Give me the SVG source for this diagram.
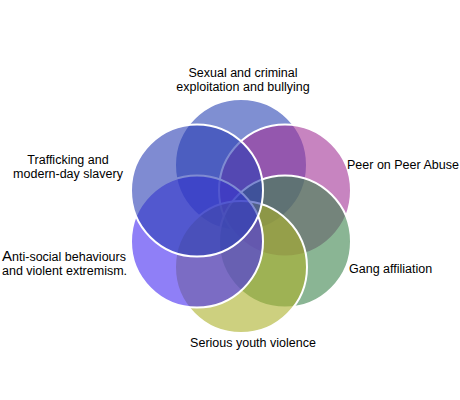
<svg xmlns="http://www.w3.org/2000/svg" width="460" height="400" viewBox="0 0 460 400">
<style>
.c{stroke:#ffffff;stroke-width:2;fill-opacity:0.6}
text{font-family:"Liberation Sans",Arial,sans-serif;font-size:12.5px;fill:#000000}
.m{text-anchor:middle}
</style>
<rect width="460" height="400" fill="#ffffff"/>
<g id="connectors"/>
<g id="node-top">
<circle class="c" cx="241" cy="165" r="66" fill="#2a44b4"/>
<text class="m" x="243" y="77">Sexual and criminal</text>
<text class="m" x="243" y="91">exploitation and bullying</text>
</g>
<g id="node-peer">
<circle class="c" cx="285" cy="190.5" r="66" fill="#a23296"/>
<text x="347" y="169">Peer on Peer Abuse</text>
</g>
<g id="node-gang">
<circle class="c" cx="285" cy="241.5" r="66" fill="#3c844d"/>
<text x="349" y="273">Gang affiliation</text>
</g>
<g id="node-serious">
<circle class="c" cx="241" cy="267" r="66" fill="#acb12a"/>
<text class="m" x="253" y="347">Serious youth violence</text>
</g>
<g id="node-anti">
<circle class="c" cx="197" cy="241.5" r="66" fill="#442af2"/>
<text x="2" y="261"><tspan font-size="15">A</tspan>nti-social behaviours</text>
<text x="2" y="275">and violent extremism.</text>
</g>
<g id="node-trafficking">
<circle class="c" cx="197" cy="190.5" r="66" fill="#2a3eb4"/>
<text class="m" x="68" y="164">Trafficking and</text>
<text class="m" x="68" y="178">modern-day slavery</text>
</g>
</svg>
